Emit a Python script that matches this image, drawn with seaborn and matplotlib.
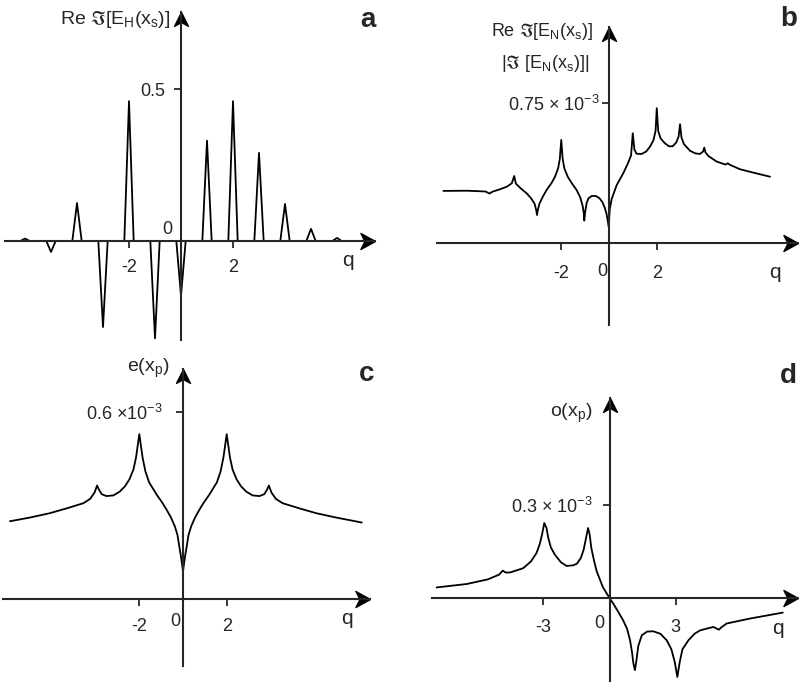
import numpy as np
import pandas as pd
import matplotlib
matplotlib.use("Agg")
import matplotlib.pyplot as plt
import seaborn as sns

# panel a: narrow spikes at integer q (peak value of each spike)
a_spike_q = [-6, -5, -4, -3, -2, -1, 0, 1, 2, 3, 4, 5, 6]
a_spike_h = [0.008, -0.036, 0.125, -0.283, 0.46, -0.32, -0.18, 0.33, 0.46, 0.29, 0.122, 0.04, 0.01]
a_q_range = [-6.8, 6.7]

# panel b (units of 1e-3)
b_q = [-6.9, -5.93, -5.15, -4.98, -4.85, -4.54, -4.25, -4.05, -3.95, -3.88, -3.7, -3.43,
       -3.25, -3.1, -3.03, -3.0, -2.97, -2.9, -2.75, -2.6, -2.4, -2.25, -2.12, -2.05, -1.99,
       -1.93, -1.86, -1.72, -1.55, -1.35, -1.2, -1.1, -1.05, -1.03, -0.99, -0.93, -0.85,
       -0.72, -0.55, -0.4, -0.28, -0.18, -0.1, -0.04, -0.01, 0.03, 0.11, 0.32, 0.6, 0.8,
       0.92, 0.99, 1.06, 1.15, 1.36, 1.55, 1.71, 1.85, 1.94, 1.99, 2.05, 2.15, 2.33, 2.5,
       2.65, 2.8, 2.9, 2.96, 3.02, 3.12, 3.375, 3.6, 3.79, 3.92, 3.97, 4.02, 4.15, 4.49,
       4.85, 4.95, 5.05, 5.46, 6.01, 6.71]
b_val = [0.279, 0.28, 0.276, 0.265, 0.275, 0.288, 0.302, 0.32, 0.359, 0.318, 0.295, 0.266,
         0.24, 0.21, 0.175, 0.15, 0.175, 0.21, 0.25, 0.284, 0.32, 0.355, 0.4, 0.45, 0.552,
         0.45, 0.4, 0.355, 0.32, 0.284, 0.245, 0.2, 0.16, 0.12, 0.17, 0.215, 0.24,
         0.252, 0.252, 0.24, 0.22, 0.19, 0.155, 0.11, 0.087, 0.18, 0.235, 0.31, 0.375, 0.43,
         0.47, 0.588, 0.5, 0.478, 0.477, 0.49, 0.516, 0.55, 0.6, 0.722, 0.6, 0.56, 0.534, 0.518,
         0.518, 0.538, 0.57, 0.636, 0.565, 0.53, 0.494, 0.48, 0.477, 0.49, 0.511, 0.485, 0.465,
         0.436, 0.42, 0.427, 0.418, 0.395, 0.377, 0.355]

# panel c (units of 1e-3)
c_q = [-7.92, -7.0, -6.09, -5.3, -4.56, -4.25, -4.05, -3.93, -3.85, -3.72, -3.5, -3.19,
       -2.9, -2.65, -2.45, -2.27, -2.15, -2.06, -2.0, -1.94, -1.85, -1.72, -1.55, -1.2,
       -0.95, -0.75, -0.55, -0.37, -0.25, -0.17, -0.1, -0.04, 0.0, 0.04, 0.1, 0.17, 0.25,
       0.37, 0.55, 0.75, 0.95, 1.2, 1.55, 1.72, 1.85, 1.94, 2.0, 2.06, 2.15, 2.27, 2.45,
       2.65, 2.9, 3.19, 3.5, 3.72, 3.85, 3.93, 4.05, 4.25, 4.56, 5.3, 6.09, 7.0, 8.18]
c_val = [0.25, 0.262, 0.276, 0.292, 0.308, 0.322, 0.342, 0.365, 0.352, 0.337, 0.331, 0.333,
         0.345, 0.363, 0.385, 0.416, 0.455, 0.5, 0.53, 0.5, 0.455, 0.41, 0.375, 0.335,
         0.31, 0.287, 0.262, 0.233, 0.205, 0.169, 0.14, 0.11, 0.089, 0.11, 0.14, 0.169, 0.205,
         0.233, 0.262, 0.287, 0.31, 0.335, 0.375, 0.41, 0.455, 0.5, 0.53, 0.5, 0.455, 0.416,
         0.385, 0.363, 0.345, 0.333, 0.331, 0.337, 0.352, 0.365, 0.342, 0.322, 0.308, 0.292,
         0.276, 0.262, 0.246]

# panel d (units of 1e-3)
d_q = [-7.82, -6.46, -5.5, -5.0, -4.83, -4.7, -4.5, -3.9, -3.55, -3.3, -3.15, -3.05, -2.95,
       -2.85, -2.77, -2.65, -2.47, -2.2, -1.94, -1.65, -1.48, -1.3, -1.17, -1.07, -0.97,
       -0.9, -0.82, -0.7, -0.58, -0.3, 0.0, 0.17, 0.4, 0.62, 0.8, 0.93, 1.02, 1.08, 1.15,
       1.22, 1.3, 1.46, 1.7, 1.98, 2.3, 2.59, 2.8, 2.95, 3.07, 3.18, 3.3, 3.57, 3.85, 4.1,
       4.7, 4.95, 5.05, 5.3, 6.36, 7.84]
d_val = [0.034, 0.045, 0.06, 0.075, 0.088, 0.082, 0.082, 0.096, 0.118, 0.145, 0.175, 0.205,
         0.241, 0.225, 0.193, 0.162, 0.139, 0.115, 0.103, 0.105, 0.11, 0.128, 0.155, 0.19,
         0.225, 0.205, 0.16, 0.12, 0.086, 0.035, 0.0, -0.018, -0.045, -0.072, -0.1, -0.136,
         -0.175, -0.21, -0.232, -0.2, -0.155, -0.12, -0.108, -0.107, -0.115, -0.136, -0.165,
         -0.205, -0.254, -0.205, -0.165, -0.136, -0.115, -0.104, -0.093, -0.102, -0.095,
         -0.082, -0.066, -0.047]

sns.set_style("ticks")
plt.rcParams["font.family"] = ["Liberation Sans", "DejaVu Sans"]
plt.rcParams["mathtext.fontset"] = "custom"
plt.rcParams["mathtext.rm"] = "Liberation Sans"
plt.rcParams["mathtext.it"] = "Liberation Sans:italic"
plt.rcParams["mathtext.fallback"] = "stixsans"
plt.rcParams["axes.unicode_minus"] = False

W, H = 799, 683
fig = plt.figure(figsize=(W / 100, H / 100), dpi=100)

right_arrow = [(0, 0), (-1, 0.55), (-0.72, 0), (-1, -0.55), (0, 0)]
up_arrow = [(0, 0), (-0.5, -1), (0, -0.72), (0.5, -1), (0, 0)]


def ftext(x, y, s, **kw):
    kw.setdefault("va", "center")
    fig.text(x / W, 1 - y / H, s, **kw)


def make_panel(rect, origin, ux, uy, df, xticks, ytick, ylab, xpad, ypad):
    L, T, R, B = rect
    ox, oy = origin
    ax = fig.add_axes([L / W, 1 - B / H, (R - L) / W, (B - T) / H])
    sns.lineplot(data=df, x="q", y="v", ax=ax, color="k", lw=1.3,
                 sort=False, estimator=None)
    ax.set_xlim((L - ox) / ux, (R - ox) / ux)
    ax.set_ylim((oy - B) / uy, (oy - T) / uy)
    ax.set_xlabel("")
    ax.set_ylabel("")
    for s in ["top", "right"]:
        ax.spines[s].set_visible(False)
    ax.spines["left"].set_position(("data", 0))
    ax.spines["bottom"].set_position(("data", 0))
    ax.spines["left"].set_linewidth(1.5)
    ax.spines["bottom"].set_linewidth(1.5)
    ax.set_xticks(xticks)
    ax.set_xticklabels([str(t) for t in xticks])
    ax.set_yticks([ytick])
    ax.set_yticklabels([ylab])
    ax.tick_params(axis="x", direction="out", length=5, width=1.3, pad=xpad, labelsize=13)
    ax.tick_params(axis="y", direction="out", length=5, width=1.3, pad=ypad, labelsize=13)
    ax.plot(1, 0, marker=right_arrow, ms=21, color="k", transform=ax.get_yaxis_transform(),
            clip_on=False)
    ax.plot(0, 1, marker=up_arrow, ms=20, color="k", transform=ax.get_xaxis_transform(),
            clip_on=False)
    ax.patch.set_alpha(0)
    return ax


# build the spike polyline for panel a
half = 0.18
pts_q, pts_v = [a_q_range[0]], [0.0]
for q0, h in zip(a_spike_q, a_spike_h):
    pts_q += [q0 - half, q0, q0 + half]
    pts_v += [0.0, h, 0.0]
pts_q.append(a_q_range[1])
pts_v.append(0.0)
df_a = pd.DataFrame({"q": pts_q, "v": pts_v})
df_b = pd.DataFrame({"q": b_q, "v": b_val})
df_c = pd.DataFrame({"q": c_q, "v": c_val})
df_d = pd.DataFrame({"q": d_q, "v": d_val})

make_panel((5, 12, 375, 340), (181, 241), 26, 304, df_a, [-2, 2], 0.5, "0.5", 8, 6)
make_panel((437, 27, 798, 325), (609, 243), 24, 186.7, df_b, [-2, 2], 0.75,
           r"0.75 × 10$^{-3}$", 11, 2)
make_panel((3, 369, 370, 666), (183, 599), 21.85, 311, df_c, [-2, 2], 0.6,
           r"0.6 ×10$^{-3}$", 9, 10)
make_panel((432, 398, 798, 681), (609.5, 598), 22.1, 311, df_d, [-3, 3], 0.3,
           r"0.3 × 10$^{-3}$", 10, 7)

# axis labels
ftext(170, 20, r"Re $\Im$[E$_\mathrm{H}$(x$_\mathrm{s}$)]", ha="right", fontsize=14)
ftext(593, 32, r"Re $\Im$[E$_\mathrm{N}$(x$_\mathrm{s}$)]", ha="right", fontsize=13)
ftext(589, 63, r"|$\Im$ [E$_\mathrm{N}$(x$_\mathrm{s}$)]|", ha="right", fontsize=13)
ftext(170, 368, r"e(x$_\mathrm{p}$)", ha="right", fontsize=14)
ftext(593, 413, r"o(x$_\mathrm{p}$)", ha="right", fontsize=14)

# zeros and q labels
ftext(167, 230, "0", ha="center", fontsize=13)
ftext(602, 272, "0", ha="center", fontsize=13)
ftext(175, 622, "0", ha="center", fontsize=13)
ftext(599, 623, "0", ha="center", fontsize=13)
ftext(348, 260, "q", ha="center", fontsize=15)
ftext(775, 273, "q", ha="center", fontsize=15)
ftext(347, 619, "q", ha="center", fontsize=15)
ftext(778, 628, "q", ha="center", fontsize=15)

# panel letters
ftext(368, 20, "a", ha="center", fontsize=20, fontweight="bold")
ftext(797, 19, "b", ha="right", fontsize=20, fontweight="bold")
ftext(367, 374, "c", ha="center", fontsize=20, fontweight="bold")
ftext(797, 376, "d", ha="right", fontsize=20, fontweight="bold")

fig.savefig("out.png", dpi=100)
